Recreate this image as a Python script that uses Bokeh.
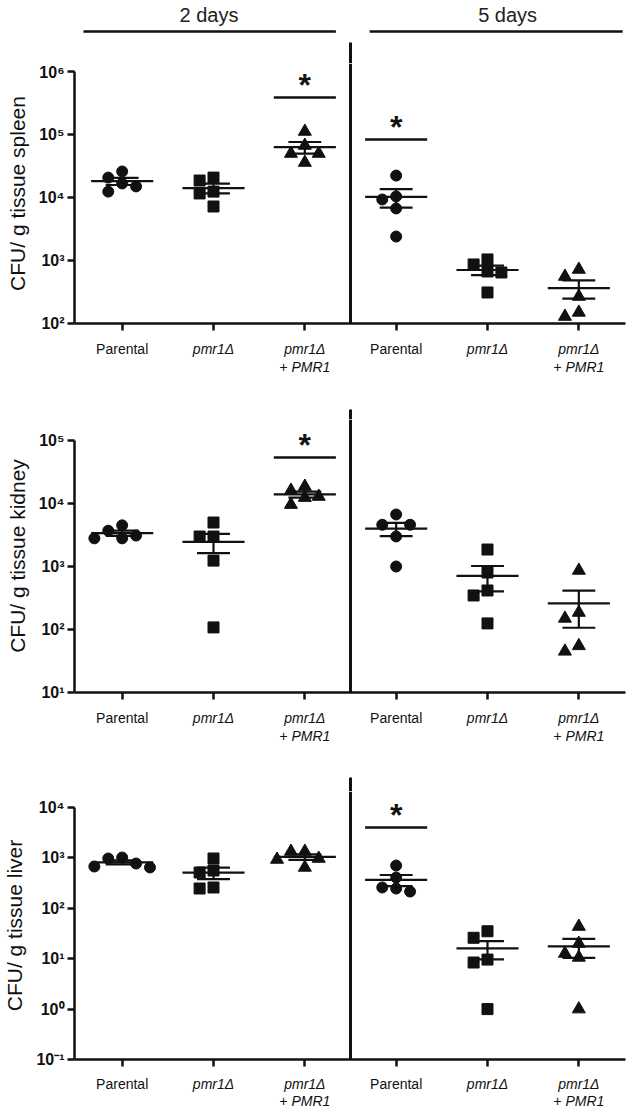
import numpy as np
from bokeh.plotting import figure
from bokeh.layouts import column
from bokeh.models import Range1d, FixedTicker, Span
from bokeh.embed import file_html
from bokeh.resources import INLINE
from bokeh.core.properties import value

# ---------------- data ----------------
label_line1 = ["Parental", "pmr1Δ", "pmr1Δ", "Parental", "pmr1Δ", "pmr1Δ"]
label_line2 = ["", "", "+ PMR1", "", "", "+ PMR1"]
label_italic = [False, True, True, False, True, True]
day_labels = ["2 days", "5 days"]
marker_types = ["circle", "square", "triangle", "circle", "square", "triangle"]
tissues = ["spleen", "kidney", "liver"]

spleen = [
    [16700, 25900, 20700, 15000, 12400],
    [20700, 18600, 12400, 11600, 7200],
    [111600, 66900, 49900, 35900, 49900],
    [22300, 9300, 10400, 6700, 2400],
    [1040, 865, 670, 645, 311],
    [557, 720, 268, 129, 150],
]
kidney = [
    [3100, 4500, 2800, 3700, 2800],
    [4990, 2990, 2990, 1240, 108],
    [12900, 18600, 9600, 16100, 12400],
    [6700, 4600, 4600, 3000, 1000],
    [1860, 803, 416, 347, 125],
    [865, 186, 150, 45, 55],
]
liver = [
    [774, 1018, 646, 973, 675],
    [562, 513, 973, 247, 259],
    [930, 1340, 646, 1340, 973],
    [706, 408, 259, 215, 247],
    [35, 26, 9.6, 8.4, 1],
    [43.5, 20, 12.7, 10.6, 1],
]
panel_data = [spleen, kidney, liver]
significant = [[2, 3], [2], [3]]          # groups marked with *
axis_decades = [(2, 6), (1, 5), (-1, 4)]  # labelled y-axis span (log10)

# ---------------- layout / style ----------------
FONT = "Liberation Sans"
BLACK = "#111111"
WIDTH = 630
LEFT, RIGHT = 70, 5
X0, X1 = 0.478, 6.511
frame_w = WIDTH - LEFT - RIGHT
px_per_unit = frame_w / (X1 - X0)

AXIS_BORDER = 12
panel_frame_h = [260, 273, 268]
panel_ppd = [63.0, 63.0, 50.4]               # pixels per decade
strip_heights = [63, 84, 87, 37]             # header strip + label strips
strip_divider = [(42, 63), (74, 84), (73, 87), None]
sig_line_px = [{2: 34, 3: 76}, {2: 38}, {3: 36}]   # px below frame top
label_rows = [(13, 31), (13, 31), (12, 29)]

SUP = {"0": "⁰", "1": "¹", "2": "²", "3": "³", "4": "⁴", "5": "⁵", "6": "⁶", "-": "⁻"}


def sup(k):
    return "".join(SUP[c] for c in str(k))


def swarm(vals, ppd, step_px=14.0, size_px=10.5):
    ys = np.log10(np.asarray(vals, float)) * ppd
    order = np.argsort(-ys)
    cands = [0]
    for j in range(1, 6):
        cands += [-j, j]
    placed = []
    offs = np.zeros(len(vals))
    for i in order:
        for c in cands:
            if all(np.hypot((c - pc) * step_px, ys[i] - py) >= size_px for pc, py in placed):
                break
        offs[i] = c
        placed.append((c, ys[i]))
    return offs * step_px / px_per_unit


def base_fig(height, y_range, **kw):
    p = figure(width=WIDTH, height=height, x_range=Range1d(X0, X1), y_range=y_range,
               output_backend="svg", toolbar_location=None,
               min_border_left=LEFT, min_border_right=RIGHT, min_border_top=0, **kw)
    p.outline_line_color = None
    p.background_fill_color = "white"
    p.border_fill_color = "white"
    return p


def strip_fig(si):
    h = strip_heights[si]
    p = base_fig(h, Range1d(h, 0), x_axis_location=None, y_axis_location=None,
                 min_border_bottom=0)
    p.xgrid.visible = False
    p.ygrid.visible = False
    if si > 0:
        r1, r2 = label_rows[si - 1]
        for gi in range(6):
            p.text(x=[gi + 1], y=[r1], text=[label_line1[gi]], text_align="center",
                   text_baseline="middle", text_font=value(FONT), text_font_size="14px",
                   text_font_style="italic" if label_italic[gi] else "normal",
                   text_color=BLACK)
            if label_line2[gi]:
                p.text(x=[gi + 1], y=[r2], text=[label_line2[gi]], text_align="center",
                       text_baseline="middle", text_font=value(FONT), text_font_size="14px",
                       text_font_style="italic", text_color=BLACK)
    else:
        p.segment(x0=[0.576, 3.71], y0=[31, 31], x1=[3.34, 6.48], y1=[31, 31],
                  line_width=2.5, line_color=BLACK)
        p.text(x=[1.95, 5.22], y=[14, 14], text=day_labels, text_align="center",
               text_baseline="middle", text_font=value(FONT), text_font_size="20px",
               text_color="#222222")
    if strip_divider[si]:
        a, b = strip_divider[si]
        p.segment(x0=[3.5], y0=[a], x1=[3.5], y1=[b + 3], line_width=3, line_color=BLACK)
    return p


figs = [strip_fig(0)]
for pi, data in enumerate(panel_data):
    ppd = panel_ppd[pi]
    lo, hi = axis_decades[pi]
    top = lo + panel_frame_h[pi] / ppd
    p = base_fig(panel_frame_h[pi] + AXIS_BORDER, Range1d(10.0 ** lo, 10.0 ** top),
                 y_axis_type="log", min_border_bottom=AXIS_BORDER)
    p.xgrid.visible = False
    p.ygrid.visible = False

    ticks = [10.0 ** k for k in range(lo, hi + 1)]
    p.yaxis.ticker = FixedTicker(ticks=ticks, minor_ticks=[])
    p.yaxis.major_label_overrides = {t: "10" + sup(k) for t, k in zip(ticks, range(lo, hi + 1))}
    p.yaxis.bounds = (10.0 ** lo, 10.0 ** hi)
    p.yaxis.axis_label = "CFU/ g tissue " + tissues[pi]
    p.yaxis.axis_label_text_font = FONT
    p.yaxis.axis_label_text_font_style = "normal"
    p.yaxis.axis_label_text_font_size = "21px"
    p.yaxis.axis_label_text_color = BLACK
    p.yaxis.axis_label_standoff = 7
    p.yaxis.major_label_text_font = FONT
    p.yaxis.major_label_text_font_style = "bold"
    p.yaxis.major_label_text_font_size = "16px"
    p.yaxis.major_label_text_color = BLACK
    p.yaxis.major_label_standoff = 3

    p.xaxis.ticker = FixedTicker(ticks=[1, 2, 3, 4, 5, 6], minor_ticks=[])
    p.xaxis.major_label_overrides = {i: "" for i in range(1, 7)}
    p.xaxis.major_label_text_font_size = "0px"
    p.xaxis.major_label_standoff = 0
    for ax in (p.xaxis, p.yaxis):
        ax.axis_line_width = 2.5
        ax.axis_line_color = BLACK
        ax.major_tick_line_width = 2.5
        ax.major_tick_line_color = BLACK
        ax.major_tick_in = 0
        ax.major_tick_out = 7
        ax.minor_tick_line_color = None

    # divider between 2 days and 5 days
    p.add_layout(Span(location=3.5, dimension="height", line_width=3, line_color=BLACK))

    half_mean = 0.34
    half_cap = 0.18
    for gi, vals in enumerate(data):
        xc = gi + 1
        v = np.asarray(vals, float)
        offs = swarm(v, ppd)
        p.scatter(x=xc + offs, y=v, marker=marker_types[gi],
                  size=13 if marker_types[gi] == "triangle" else 11,
                  fill_color=BLACK, line_color=BLACK)
        m = v.mean()
        sem = v.std(ddof=1) / np.sqrt(len(v))
        p.segment(x0=[xc - half_mean], y0=[m], x1=[xc + half_mean], y1=[m],
                  line_width=2.2, line_color=BLACK)
        p.segment(x0=[xc - half_cap, xc - half_cap, xc], y0=[m + sem, m - sem, m - sem],
                  x1=[xc + half_cap, xc + half_cap, xc], y1=[m + sem, m - sem, m + sem],
                  line_width=2.2, line_color=BLACK)

    # significance markers
    for gi in significant[pi]:
        xc = gi + 1
        yl_log = top - sig_line_px[pi][gi] / ppd
        p.segment(x0=[xc - half_mean], y0=[10 ** yl_log], x1=[xc + half_mean], y1=[10 ** yl_log],
                  line_width=2.5, line_color=BLACK)
        p.text(x=[xc], y=[10 ** (yl_log + 13 / ppd)], text=["*"],
               text_align="center", text_baseline="alphabetic",
               text_font=value(FONT), text_font_size="32px", text_font_style="bold",
               text_color=BLACK)

    figs.append(p)
    figs.append(strip_fig(pi + 1))

layout = column(*figs, spacing=0)
open("out.html", "w").write(file_html(layout, INLINE))
